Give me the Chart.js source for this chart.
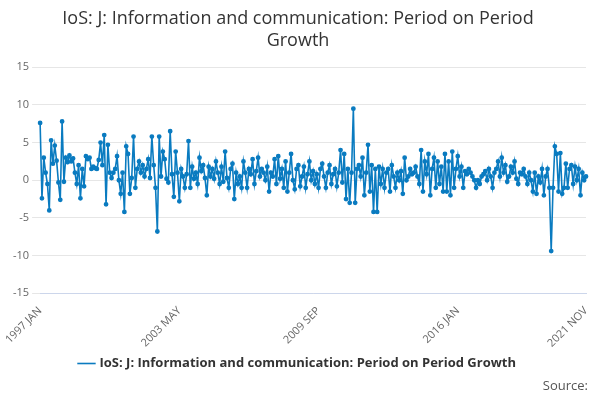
<!DOCTYPE html>
<html>
<head>
<meta charset="utf-8">
<script src="https://cdn.jsdelivr.net/npm/chart.js@4"></script>
<style>
  body { margin: 0; background: #fff; font-family: "Open Sans", sans-serif; }
  #wrap { position: relative; width: 600px; height: 400px; }
  #source { position: absolute; right: 12px; bottom: 6px; font-size: 13px; color: #555; }
</style>
</head>
<body>
<div id="wrap">
  <canvas id="chart" width="600" height="400"></canvas>
  <div id="source">Source:</div>
</div>
<script>
// Meses y rango de la serie
const months = ['JAN','FEB','MAR','APR','MAY','JUN','JUL','AUG','SEP','OCT','NOV','DEC'];
const startYear = 1997;
const shownTicks = ['1997 JAN', '2003 MAY', '2009 SEP', '2016 JAN', '2021 NOV'];

// Valores (% crecimiento mes a mes)
const growth = [
  7.6,-2.4,3.0,1.0,-0.5,-4.0,5.3,2.2,4.6,2.6,-0.3,-2.6,
  7.8,-0.2,3.0,2.4,3.3,2.5,2.9,1.0,-0.5,2.0,-2.4,1.5,
  -0.8,3.2,2.8,3.0,1.5,1.8,1.6,1.5,2.7,5.0,2.0,6.0,
  -3.2,4.7,1.0,0.3,1.0,1.5,3.2,0.0,-1.8,1.0,-4.2,4.5,
  3.5,-1.8,0.3,5.8,-1.0,1.5,2.5,1.0,2.0,0.5,1.5,2.8,
  0.3,5.8,2.0,-1.0,-6.8,5.8,0.5,3.8,2.8,0.2,-0.3,6.5,
  0.8,-2.2,3.8,1.0,-2.8,1.5,0.5,-1.0,0.8,5.2,-1.0,1.8,
  0.2,1.0,-0.5,3.0,1.2,2.0,0.3,-2.0,1.8,0.5,1.5,0.2,
  2.5,1.0,-0.5,1.8,-0.2,3.8,0.3,-1.0,1.5,2.2,-2.5,1.0,
  -0.5,0.5,-1.0,2.5,1.0,-1.0,1.5,0.8,2.8,-0.5,1.2,3.0,
  0.5,1.5,1.0,0.0,1.8,-1.5,1.0,0.5,2.8,-0.5,3.2,0.2,
  1.5,-1.0,2.5,-1.5,1.0,3.5,0.0,-1.2,1.5,2.0,-0.8,0.5,
  1.8,-1.0,0.8,2.5,0.0,1.2,-0.5,0.8,-1.0,1.5,2.2,0.5,
  -1.0,1.0,2.0,-0.5,0.8,1.5,-0.8,1.0,4.0,-0.3,3.5,-2.5,
  1.5,-3.0,1.0,9.5,-3.0,1.5,2.0,0.5,3.0,-2.0,1.0,4.7,
  -1.5,2.0,-4.2,1.5,-4.2,1.8,-0.5,1.5,-1.0,1.0,1.5,-1.5,
  2.0,0.5,-1.0,1.0,0.0,1.2,-1.8,3.0,0.0,0.5,1.5,0.8,
  1.0,1.8,0.5,-0.5,4.0,-1.5,2.5,0.8,3.5,-2.0,1.5,3.0,
  -1.0,2.5,-0.5,1.8,-1.5,3.5,-1.5,2.5,-2.0,3.8,-1.0,1.5,
  3.2,0.5,1.8,-1.0,1.2,0.8,1.5,1.0,0.5,0.0,-1.0,0.0,
  -0.5,0.5,0.8,1.2,0.0,1.5,0.5,-1.0,1.0,1.5,2.5,0.5,
  3.0,1.0,2.0,-0.2,0.5,1.8,1.0,2.5,0.2,-0.5,1.0,0.8,
  1.5,0.5,-0.5,1.0,0.0,-1.5,1.0,-1.8,0.5,-0.3,1.5,-2.0,
  0.5,1.5,-1.0,-9.4,-1.0,4.5,3.5,-1.5,3.6,-1.8,-1.0,2.2,
  -1.0,1.5,2.0,-0.5,1.8,0.0,1.5,-2.0,1.0,0.0,0.5
];

const labels = growth.map((v, i) => (startYear + Math.floor(i / 12)) + ' ' + months[i % 12]);
const color = '#0a7bc0';
const title = 'IoS: J: Information and communication: Period on Period Growth';

new Chart(document.getElementById('chart'), {
  type: 'line',
  data: {
    labels: labels,
    datasets: [{
      label: title,
      data: growth,
      borderColor: color,
      backgroundColor: color,
      borderWidth: 1.6,
      pointRadius: 1.6,
      pointHoverRadius: 3,
      tension: 0,
      fill: false
    }]
  },
  options: {
    responsive: false,
    animation: false,
    layout: { padding: { left: 10, right: 14, bottom: 20 } },
    plugins: {
      title: {
        display: true,
        text: ['IoS: J: Information and communication: Period on Period', 'Growth'],
        color: '#333',
        font: { family: 'Open Sans', size: 18, weight: 'normal' },
        padding: { top: 8, bottom: 16 }
      },
      legend: {
        position: 'bottom',
        labels: {
          usePointStyle: true,
          pointStyle: 'line',
          color: '#333',
          font: { family: 'Open Sans', size: 13, weight: 'bold' },
          padding: 4
        }
      }
    },
    scales: {
      x: {
        grid: { display: false },
        border: { color: '#ccd6eb' },
        ticks: {
          autoSkip: false,
          maxRotation: 45,
          minRotation: 45,
          color: '#666',
          font: { family: 'Open Sans', size: 11 },
          callback: function (value) {
            const l = this.getLabelForValue(value);
            return shownTicks.includes(l) ? l : null;
          }
        }
      },
      y: {
        min: -15,
        max: 15,
        ticks: { stepSize: 5, color: '#666', font: { family: 'Open Sans', size: 11 } },
        grid: { color: '#e6e6e6' },
        border: { display: false }
      }
    }
  }
});
</script>
</body>
</html>
